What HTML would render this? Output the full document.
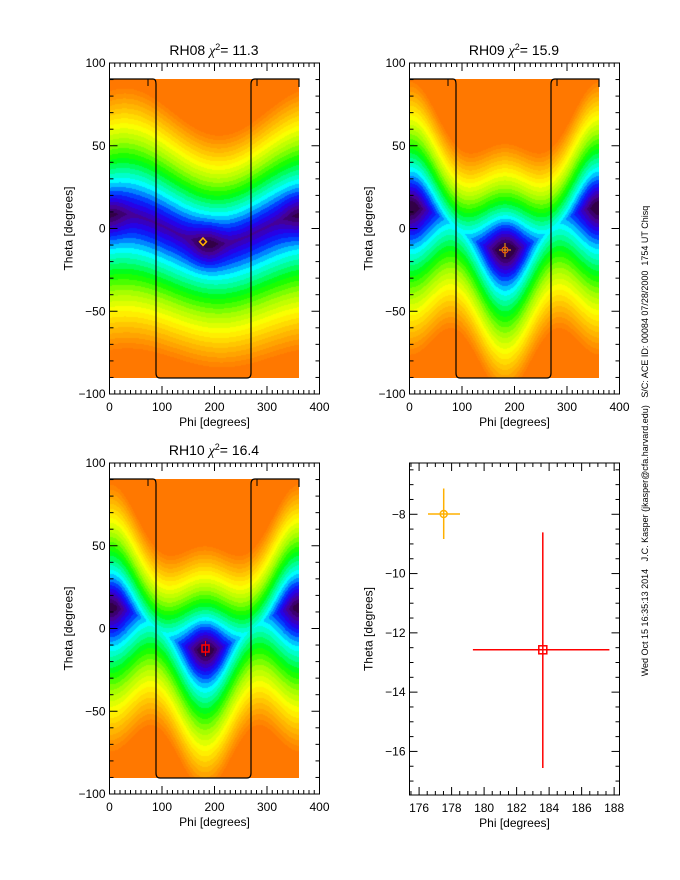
<!DOCTYPE html>
<html><head><meta charset="utf-8"><style>
body{margin:0;background:#fff;}
#w{position:relative;width:680px;height:880px;overflow:hidden;background:#fff;font-family:"Liberation Sans",sans-serif;}
canvas{position:absolute;}
svg{position:absolute;left:0;top:0;}
</style></head><body><div id="w">
<canvas id="c1" width="189" height="299" style="left:110px;top:79px"></canvas>
<canvas id="c2" width="189" height="299" style="left:410px;top:79px"></canvas>
<canvas id="c3" width="189" height="299" style="left:110px;top:479px"></canvas>
<svg id="s" width="680" height="880"></svg>
</div>
<script>
var stops=[[0,[50,0,70]],[0.07,[70,0,150]],[0.14,[40,0,230]],[0.2,[0,40,255]],[0.27,[0,170,255]],[0.32,[0,255,255]],[0.4,[0,255,140]],[0.48,[0,255,0]],[0.6,[160,255,0]],[0.72,[255,255,0]],[0.82,[255,200,0]],[0.92,[255,150,0]],[1,[255,120,0]]];
function cmap(v){v=Math.max(0,Math.min(1,v));v=Math.round(v*28)/28;
for(var i=1;i<stops.length;i++){if(v<=stops[i][0]){var a=stops[i-1],b=stops[i],t=(v-a[0])/(b[0]-a[0]);return [0,1,2].map(k=>a[1][k]+(b[1][k]-a[1][k])*t);}}return stops[stops.length-1][1];}
var R=Math.PI/180;
function f1(p,t){var tv=9*Math.cos(R*(p-20));var d=t-tv;var W=d>0?(78-6*Math.cos(R*(p-220))):(86+4*Math.cos(R*p));var v=Math.abs(d)/W+0.08;
v-=0.1*Math.exp(-((p-185)**2/900+(t+10)**2/150));v-=0.08*Math.exp(-((Math.min(p,360-p))**2/900+(t-8)**2/150));return v;}
function f2(p,t){var tv=13*Math.cos(R*p);var d=t-tv;var c=Math.cos(R*p);var W=d>0?(74+6*c):(92+2*c);var v=Math.abs(d)/W+0.28*Math.pow(Math.sin(R*p),2)+0.04;
v-=0.1*Math.exp(-((p-182)**2/700+(t+12)**2/200));v-=0.08*Math.exp(-((Math.min(p,360-p))**2/600+(t-12)**2/200));return v;}
function draw(id,f){var c=document.getElementById(id),x=c.getContext('2d'),W=c.width,H=c.height,im=x.createImageData(W,H);
for(var j=0;j<H;j++)for(var i=0;i<W;i++){var p=i/W*360,t=90-j/H*180;var col=cmap(f(p,t));var o=(j*W+i)*4;im.data[o]=col[0];im.data[o+1]=col[1];im.data[o+2]=col[2];im.data[o+3]=255;}x.putImageData(im,0,0);}
draw('c1',f1);draw('c2',f2);draw('c3',function(p,t){return f2(p,t)+0.02;});
var s='';
function L(x1,y1,x2,y2,c,w){s+='<line x1="'+x1+'" y1="'+y1+'" x2="'+x2+'" y2="'+y2+'" stroke="'+(c||'#000')+'" stroke-width="'+(w||1)+'"/>';}
function T(x,y,txt,sz,anc,rot){s+='<text x="'+x+'" y="'+y+'" font-size="'+sz+'" text-anchor="'+(anc||'middle')+'"'+(rot?' transform="rotate(-90 '+x+' '+y+')"':'')+'>'+txt+'</text>';}
function frame(X0,Y0,X1,Y1,xmin,xmax,xmaj,xmin2,ymin,ymax,ymaj,ymin2,fmt){
s+='<rect x="'+X0+'" y="'+Y0+'" width="'+(X1-X0)+'" height="'+(Y1-Y0)+'" fill="none" stroke="#000"/>';
var sx=v=>X0+(v-xmin)/(xmax-xmin)*(X1-X0),sy=v=>Y1-(v-ymin)/(ymax-ymin)*(Y1-Y0);
for(var v=Math.ceil(xmin/xmin2)*xmin2;v<=xmax+1e-9;v+=xmin2){var X=sx(v),maj=Math.abs(v/xmaj-Math.round(v/xmaj))<1e-6,l=maj?8:4;L(X,Y1,X,Y1-l);L(X,Y0,X,Y0+l);if(maj)T(X,Y1+17,fmt(v),12);}
for(var v=Math.ceil(ymin/ymin2)*ymin2;v<=ymax+1e-9;v+=ymin2){var Y=sy(v),maj=Math.abs(v/ymaj-Math.round(v/ymaj))<1e-6,l=maj?8:4;L(X0,Y,X0+l,Y);L(X1,Y,X1-l,Y);if(maj)T(X0-4,Y+4,fmt(v).replace('-','\u2212'),12,'end');}
T((X0+X1)/2,Y1+32,'Phi [degrees]',12);T(X0-37,(Y0+Y1)/2,'Theta [degrees]',12,'middle',1);}
var fm=v=>String(Math.round(v));
function outline(X0,Y0){
var xl=X0+46,xr=X0+141,yb=Y0+299;
s+='<path d="M'+X0+' '+Y0+' H'+(xl-3)+' Q'+xl+' '+Y0+' '+xl+' '+(Y0+5)+' V'+(yb-5)+' Q'+xl+' '+yb+' '+(xl+4)+' '+yb+' H'+(xr-4)+' Q'+xr+' '+yb+' '+xr+' '+(yb-5)+' V'+(Y0+5)+' Q'+xr+' '+Y0+' '+(xr+4)+' '+Y0+' H'+(X0+189)+' V'+(Y0+8)+'" fill="none" stroke="#000" stroke-width="1.2"/>';
L(X0+38,Y0,X0+38,Y0+7);L(X0+147,Y0,X0+147,Y0+7);}
outline(110,79);outline(410,79);outline(110,479);
frame(109.5,63,319.5,394,0,400,100,10,-100,100,50,10,fm);
frame(409.5,63,619.5,394,0,400,100,10,-100,100,50,10,fm);
frame(109.5,463,319.5,794,0,400,100,10,-100,100,50,10,fm);
frame(409.5,463,619.5,795,175.41,188.33,2,0.5,-17.47,-6.27,2,0.5,fm);
s+='<text x="214" y="55" font-size="14" text-anchor="middle">RH08 <tspan font-family="Liberation Serif" font-style="italic">χ</tspan><tspan dy="-5" font-size="9">2</tspan><tspan dy="5">= 11.3</tspan></text>';
s+='<text x="514" y="55" font-size="14" text-anchor="middle">RH09 <tspan font-family="Liberation Serif" font-style="italic">χ</tspan><tspan dy="-5" font-size="9">2</tspan><tspan dy="5">= 15.9</tspan></text>';
s+='<text x="214" y="455" font-size="14" text-anchor="middle">RH10 <tspan font-family="Liberation Serif" font-style="italic">χ</tspan><tspan dy="-5" font-size="9">2</tspan><tspan dy="5">= 16.4</tspan></text>';
s+='<path d="M203 238 L206.5 241.7 L203 245.4 L199.5 241.7Z" fill="none" stroke="#ffb000" stroke-width="1.5"/>';
L(505,243,505,257,'#ffb000');L(499,250,511,250,'#ffb000');s+='<circle cx="505" cy="250" r="3" fill="none" stroke="#ff6000"/>';
s+='<rect x="202" y="645" width="7" height="7" fill="none" stroke="#ff0000" stroke-width="1.5"/>';L(205.5,641,205.5,656,'#ff0000');
L(443.7,488.5,443.7,539,'#ffb000',1.5);L(428,514,460,514,'#ffb000',1.5);s+='<circle cx="443.7" cy="514" r="3.5" fill="none" stroke="#ffb000" stroke-width="1.5"/>';
L(472.9,649.8,609.4,649.8,'#ff0000',1.5);L(542.8,532.4,542.8,768,'#ff0000',1.5);s+='<rect x="538.8" y="645.8" width="8" height="8" fill="none" stroke="#ff0000" stroke-width="1.5"/>';
T(648,441,'Wed Oct 15 16:35:13 2014 &#160; J.C. Kasper (jkasper@cfa.harvard.edu) &#160; S/C: ACE ID: 00084 07/28/2000 &#160;1754 UT Chisq',9,'middle',1);
document.getElementById('s').innerHTML=s;
</script></body></html>
